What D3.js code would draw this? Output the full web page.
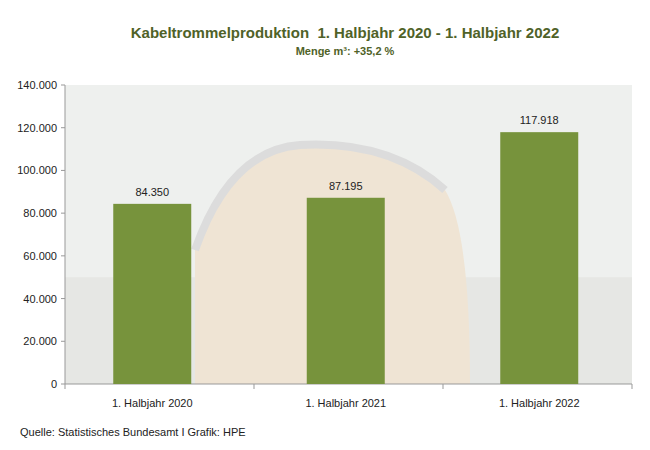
<!DOCTYPE html>
<html><head><meta charset="utf-8">
<script src="https://cdn.jsdelivr.net/npm/d3@7"></script>
<style>body{margin:0;background:#fff} text{white-space:pre}</style></head>
<body><svg id="c" width="650" height="450"></svg>
<script>
const categories = ["1. Halbjahr 2020","1. Halbjahr 2021","1. Halbjahr 2022"];
const values = [84350, 87195, 117918];
const valueLabels = ["84.350","87.195","117.918"];
const yTicks = [0,20000,40000,60000,80000,100000,120000,140000];
const fmt = v => v===0 ? "0" : d3.format(",")(v).replace(/,/g,".");

const svg = d3.select("#c");
const m = {l:65, r:632, t:85, b:384};
const x = d3.scaleBand().domain(categories).range([55.5,636]).paddingInner(0.597).paddingOuter(0.2985);
const y = d3.scaleLinear().domain([0,140000]).range([m.b,m.t]);

const bg = svg.append("g");
bg.append("rect").attr("x",m.l).attr("y",m.t).attr("width",m.r-m.l).attr("height",m.b-m.t).attr("fill","#eef0ee");
bg.append("rect").attr("x",m.l).attr("y",y(50000)).attr("width",m.r-m.l).attr("height",m.b-y(50000)).attr("fill","#e6e7e4");
bg.append("path").attr("d",`M195,${m.b} L195,250 Q230,150 300,145 Q390,140 445,190 Q470,230 470,${m.b} Z`).attr("fill","#efe4d4");
bg.append("path").attr("d",`M195,250 Q230,150 300,145 Q390,140 445,190`).attr("fill","none").attr("stroke","#dcdcdc").attr("stroke-width",8);

svg.append("line").attr("x1",m.l).attr("x2",m.l).attr("y1",m.t).attr("y2",m.b).attr("stroke","#999");
svg.append("line").attr("x1",m.l).attr("x2",m.r).attr("y1",m.b).attr("y2",m.b).attr("stroke","#999");
yTicks.forEach(t=>{
  svg.append("line").attr("x1",m.l-4).attr("x2",m.l).attr("y1",y(t)).attr("y2",y(t)).attr("stroke","#999");
  svg.append("text").attr("x",m.l-8).attr("y",y(t)+4).attr("text-anchor","end")
    .attr("font-family","Liberation Sans, Arial").attr("font-size",11).attr("fill","#222").text(fmt(t));
});
[0,1,2,3].forEach(i=>{
  const xx = m.l + i*(m.r-m.l)/3;
  svg.append("line").attr("x1",xx).attr("x2",xx).attr("y1",m.b).attr("y2",m.b+5).attr("stroke","#999");
});
svg.selectAll(".bar").data(values).join("rect")
  .attr("x",(d,i)=>x(categories[i])).attr("width",x.bandwidth())
  .attr("y",d=>y(d)).attr("height",d=>m.b-y(d)).attr("fill","#77933c");
svg.selectAll(".vl").data(values).join("text")
  .attr("x",(d,i)=>x(categories[i])+x.bandwidth()/2).attr("y",d=>y(d)-8)
  .attr("text-anchor","middle").attr("font-family","Liberation Sans, Arial").attr("font-size",11).attr("fill","#222")
  .text((d,i)=>valueLabels[i]);
svg.selectAll(".xl").data(categories).join("text")
  .attr("x",d=>x(d)+x.bandwidth()/2).attr("y",407).attr("text-anchor","middle")
  .attr("font-family","Liberation Sans, Arial").attr("font-size",11).attr("fill","#222").text(d=>d);
svg.append("text").attr("x",345).attr("y",38).attr("text-anchor","middle").attr("font-family","Liberation Sans, Arial")
  .attr("font-weight","bold").attr("font-size",15).attr("fill","#4f6228").text("Kabeltrommelproduktion  1. Halbjahr 2020 - 1. Halbjahr 2022");
svg.append("text").attr("x",345).attr("y",55).attr("text-anchor","middle").attr("font-family","Liberation Sans, Arial")
  .attr("font-weight","bold").attr("font-size",11).attr("fill","#4f6228").text("Menge m³: +35,2 %");
svg.append("text").attr("x",20).attr("y",436).attr("font-family","Liberation Sans, Arial")
  .attr("font-size",11).attr("fill","#222").text("Quelle: Statistisches Bundesamt I Grafik: HPE");
</script></body></html>
